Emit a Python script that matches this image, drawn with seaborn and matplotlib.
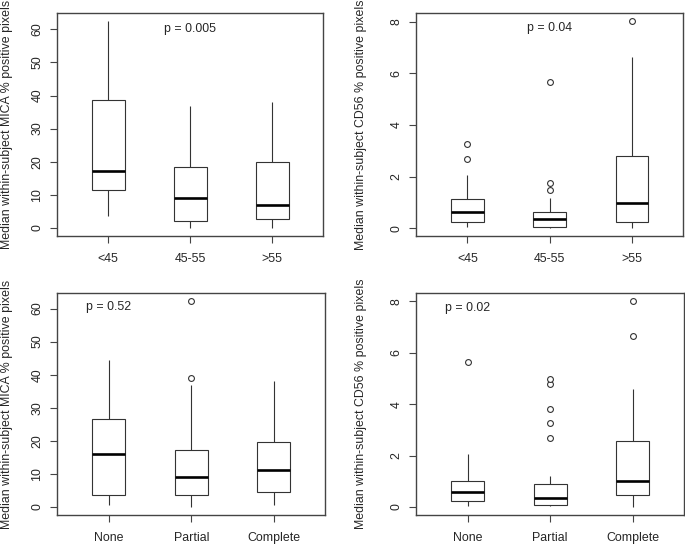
import pandas as pd
import matplotlib
matplotlib.use('Agg')
import matplotlib.pyplot as plt
from matplotlib.ticker import MultipleLocator
import seaborn as sns

# box statistics: whisker low, Q1, median, Q3, whisker high
age_groups = ['<45', '45-55', '>55']
resp_groups = ['None', 'Partial', 'Complete']

mica_age_lo = [3.4, 0.0, 0.0]
mica_age_q1 = [11.5, 2.0, 2.7]
mica_age_med = [17.3, 8.9, 7.0]
mica_age_q3 = [38.6, 18.4, 20.0]
mica_age_hi = [62.4, 36.9, 38.0]
mica_age_out = [[], [], []]

cd56_age_lo = [0.05, 0.02, 0.02]
cd56_age_q1 = [0.25, 0.06, 0.23]
cd56_age_med = [0.62, 0.34, 0.99]
cd56_age_q3 = [1.15, 0.64, 2.79]
cd56_age_hi = [2.07, 1.19, 6.64]
cd56_age_out = [[3.25, 2.69], [5.65, 1.74, 1.50], [8.01]]

mica_resp_lo = [0.7, 0.0, 0.5]
mica_resp_q1 = [3.5, 3.5, 4.6]
mica_resp_med = [16.1, 9.0, 11.1]
mica_resp_q3 = [26.6, 17.2, 19.6]
mica_resp_hi = [44.3, 36.9, 38.2]
mica_resp_out = [[], [62.3, 39.0], []]

cd56_resp_lo = [0.06, 0.03, 0.0]
cd56_resp_q1 = [0.22, 0.09, 0.45]
cd56_resp_med = [0.58, 0.36, 1.02]
cd56_resp_q3 = [1.00, 0.90, 2.58]
cd56_resp_hi = [2.06, 1.21, 4.58]
cd56_resp_out = [[5.64], [2.70, 3.27, 3.82, 4.80, 4.97], [6.65, 8.02]]

p_texts = ['p = 0.005', 'p = 0.04', 'p = 0.52', 'p = 0.02']

sns.set_style('white')
plt.rcParams['font.family'] = ['Liberation Sans', 'DejaVu Sans']
plt.rcParams['font.size'] = 8.9

line_col = '#333333'


def draw_panel(ax, cats, lo, q1, med, q3, hi, outs, ylabel, ptext, px, py, step):
    rows = []
    for i, c in enumerate(cats):
        for v in (lo[i], q1[i], med[i], q3[i], hi[i]):
            rows.append({'group': c, 'value': v})
    df = pd.DataFrame(rows)
    sns.boxplot(data=df, x='group', y='value', order=cats, ax=ax,
                whis=(0, 100), width=0.4, color='white', linecolor=line_col,
                linewidth=0.8, showcaps=False, fliersize=0,
                medianprops=dict(color='black', linewidth=1.9))
    out_rows = [{'group': c, 'value': v} for c, vals in zip(cats, outs) for v in vals]
    if out_rows:
        sns.stripplot(data=pd.DataFrame(out_rows), x='group', y='value', order=cats,
                      ax=ax, jitter=False, color='white', edgecolor=line_col,
                      linewidth=0.8, size=4.2, zorder=5)
    allv = lo + hi + [v for vals in outs for v in vals]
    vmin, vmax = min(allv), max(allv)
    pad = (vmax - vmin) * 0.04
    ax.set_ylim(vmin - pad, vmax + pad)
    ax.set_xlim(-0.62, 2.62)
    ax.yaxis.set_major_locator(MultipleLocator(step))
    ax.set_xlabel('')
    ax.set_ylabel(ylabel, fontsize=8.9)
    ax.text(px, py, ptext, ha='center', va='center', fontsize=8.9)
    for s in ax.spines.values():
        s.set_visible(True)
        s.set_color('#444444')
        s.set_linewidth(1.0)
    ax.tick_params(axis='both', which='both', direction='out', length=5,
                   width=0.8, color='#444444', labelsize=8.9, bottom=True, left=True)
    ax.tick_params(axis='x', pad=7)
    ax.tick_params(axis='y', pad=5)
    for lab in ax.get_yticklabels():
        lab.set_rotation(90)
        lab.set_va('center')


fig = plt.figure(figsize=(6.85, 5.45), dpi=100)
ax1 = fig.add_axes([0.0837, 0.567, 0.388, 0.4087])
ax2 = fig.add_axes([0.608, 0.567, 0.389, 0.4087])
ax3 = fig.add_axes([0.0837, 0.0545, 0.391, 0.4085])
ax4 = fig.add_axes([0.608, 0.0545, 0.390, 0.4085])

draw_panel(ax1, age_groups, mica_age_lo, mica_age_q1, mica_age_med, mica_age_q3,
           mica_age_hi, mica_age_out, 'Median within-subject MICA % positive pixels',
           p_texts[0], 1, 60, 10)
draw_panel(ax2, age_groups, cd56_age_lo, cd56_age_q1, cd56_age_med, cd56_age_q3,
           cd56_age_hi, cd56_age_out, 'Median within-subject CD56 % positive pixels',
           p_texts[1], 1, 7.75, 2)
draw_panel(ax3, resp_groups, mica_resp_lo, mica_resp_q1, mica_resp_med, mica_resp_q3,
           mica_resp_hi, mica_resp_out, 'Median within-subject MICA % positive pixels',
           p_texts[2], 0, 60.5, 10)
draw_panel(ax4, resp_groups, cd56_resp_lo, cd56_resp_q1, cd56_resp_med, cd56_resp_q3,
           cd56_resp_hi, cd56_resp_out, 'Median within-subject CD56 % positive pixels',
           p_texts[3], 0, 7.75, 2)

ax1.yaxis.set_label_coords(-0.165, 0.5)
ax3.yaxis.set_label_coords(-0.165, 0.5)
ax2.yaxis.set_label_coords(-0.185, 0.5)
ax4.yaxis.set_label_coords(-0.185, 0.5)

fig.savefig('out.png', dpi=100)
